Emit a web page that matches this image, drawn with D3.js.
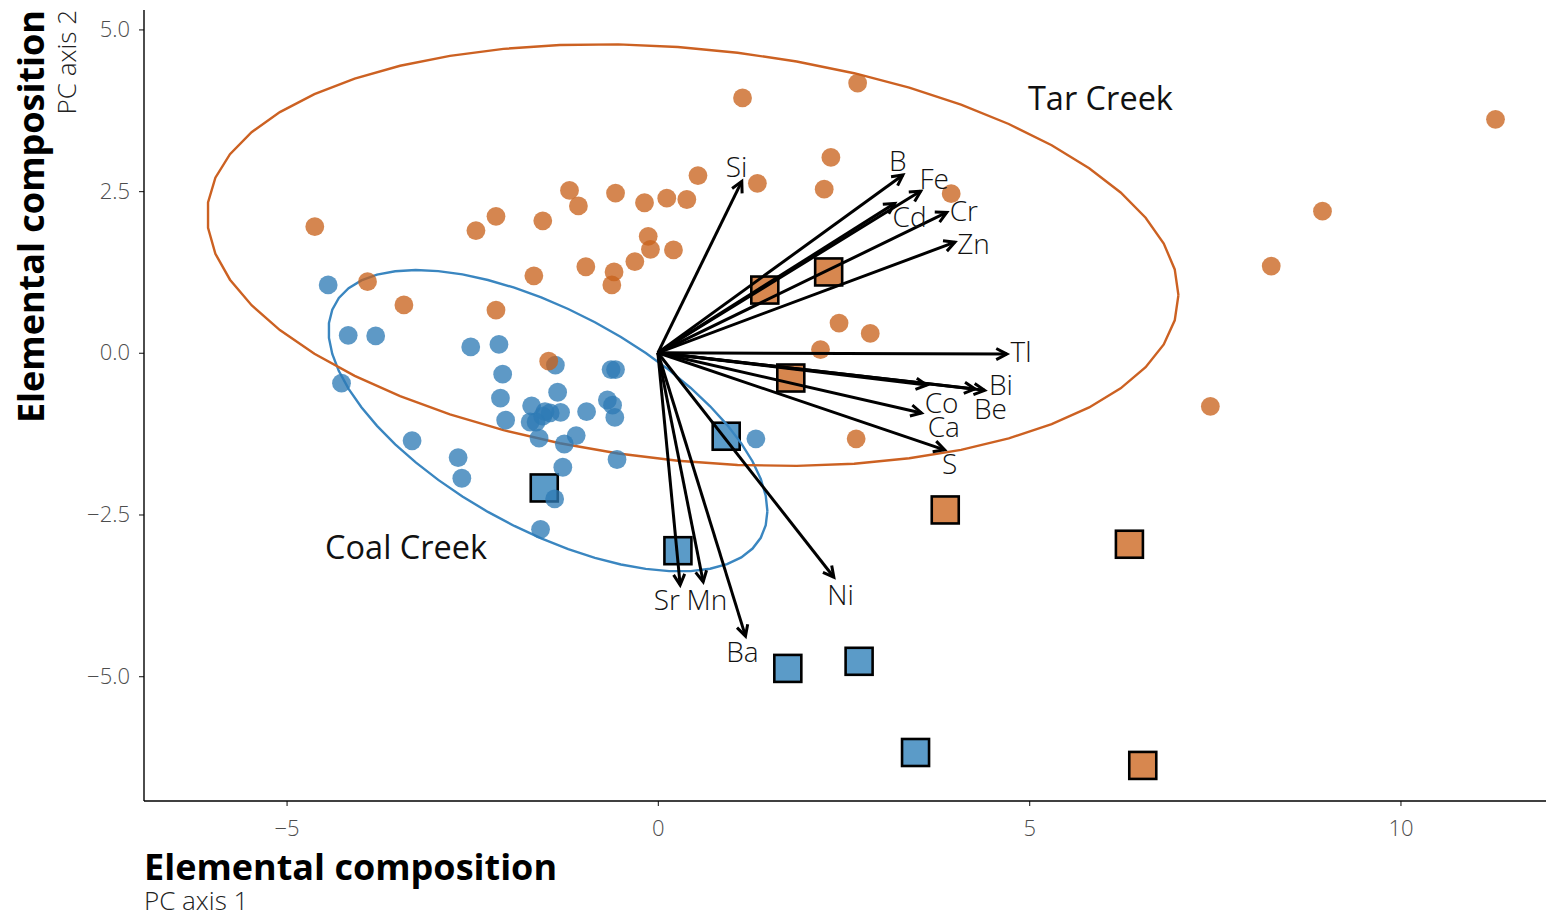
<!DOCTYPE html>
<html lang="en-US">
<head>
<meta charset="utf-8">
<script src="https://d3js.org/d3.v7.min.js"></script>
<style>
body { margin: 0; background: #fff; font-family: 'Open Sans', sans-serif; }
svg { display: block; }
.tick text { font-size: 22px; fill: #4d4d4d; font-weight: 300; font-family: 'Open Sans', sans-serif; }
.tick line { stroke: #333; stroke-width: 1.2; }
.domain { stroke: #000; stroke-width: 1.4; }
text.title { font-size: 36px; font-weight: 700; fill: #000; }
text.subtitle { font-size: 26px; font-weight: 300; fill: #222; }
text.element { font-size: 28px; font-weight: 300; fill: #111; }
text.site { font-size: 32.5px; font-weight: 400; fill: #111; }
</style>
</head>
<body>
<svg id="pca" width="1546" height="918"></svg>
<script>
// sample scores, Coal Creek
const coalX = [-4.44, -4.17, -3.80, -4.26, -3.31, -2.69, -2.64, -2.52, -2.14, -2.09, -2.12, -2.05,
  -1.70, -1.72, -1.64, -1.52, -1.45, -1.55, -1.38, -1.35, -1.31, -0.96, -1.60, -1.26, -1.10,
  -1.28, -1.39, -1.58, -0.63, -0.57, -0.68, -0.61, -0.58, -0.55, 1.32];
const coalY = [1.05, 0.27, 0.26, -0.47, -1.36, -1.62, -1.94, 0.09, 0.13, -0.33, -0.70, -1.04,
  -0.82, -1.07, -1.07, -0.91, -0.93, -0.98, -0.19, -0.61, -0.92, -0.91, -1.32, -1.41, -1.28,
  -1.77, -2.26, -2.73, -0.26, -0.26, -0.73, -0.81, -1.00, -1.65, -1.33];

// sample scores, Tar Creek
const tarX = [-4.62, -3.91, -3.42, -2.45, -2.18, -2.18, -1.67, -1.55, -1.47, -1.19, -1.07, -0.97,
  -0.62, -0.59, -0.57, -0.31, -0.18, -0.13, -0.10, 0.12, 0.21, 0.39, 0.54, 1.14, 1.34, 2.24,
  2.33, 2.69, 2.44, 2.86, 2.19, 3.95, 2.67, 11.28, 8.95, 8.26, 7.44];
const tarY = [1.95, 1.10, 0.74, 1.89, 2.11, 0.66, 1.19, 2.04, -0.13, 2.51, 2.27, 1.33,
  1.05, 1.25, 2.47, 1.41, 2.32, 1.80, 1.60, 2.39, 1.59, 2.37, 2.74, 3.94, 2.62, 2.53,
  3.02, 4.17, 0.46, 0.30, 0.05, 2.46, -1.33, 3.61, 2.19, 1.34, -0.83];

// square markers
const coalSqX = [-1.53, 0.27, 0.92, 1.75, 2.71, 3.47];
const coalSqY = [-2.09, -3.06, -1.29, -4.88, -4.77, -6.18];
const tarSqX = [1.44, 2.30, 1.79, 3.87, 6.35, 6.53];
const tarSqY = [0.97, 1.25, -0.39, -2.43, -2.96, -6.38];

// loadings
const elements = ['Si', 'B', 'Fe', 'Cd', 'Cr', 'Zn', 'Tl', 'Bi', 'Be', 'Co', 'Ca', 'S', 'Ni', 'Ba', 'Sr', 'Mn'];
const loadX = [1.13, 3.30, 3.54, 3.19, 3.89, 4.00, 4.70, 4.40, 4.27, 3.62, 3.55, 3.86, 2.37, 1.18, 0.30, 0.61];
const loadY = [2.65, 2.75, 2.50, 2.31, 2.17, 1.71, -0.02, -0.58, -0.56, -0.50, -0.93, -1.50, -3.47, -4.38, -3.59, -3.54];
const labelX = [1.06, 3.23, 3.72, 3.39, 4.12, 4.25, 4.89, 4.62, 4.48, 3.82, 3.85, 3.93, 2.46, 1.14, 0.12, 0.66];
const labelY = [2.89, 2.98, 2.70, 2.11, 2.21, 1.70, 0.03, -0.48, -0.85, -0.76, -1.13, -1.70, -3.73, -4.61, -3.81, -3.81];

// ellipses: centre, spread, correlation
const sites = ['Coal Creek', 'Tar Creek'];
const ellCx = [-1.48, 0.47];
const ellCy = [-1.05, 1.51];
const ellSx = [2.955, 6.54];
const ellSy = [2.33, 3.26];
const ellR = [-0.60, -0.19];
const siteLabelX = [-3.39, 5.96];
const siteLabelY = [-2.99, 3.94];

const xTicks = [-5, 0, 5, 10];
const yTicks = [-5, -2.5, 0, 2.5, 5];

const lineColor = ['#3a86c0', '#cc6122'];
const fillColor = ['#5b9bc8', '#d7874f'];

const plotLeft = 144, plotRight = 1546, plotTop = 10, plotBottom = 801;

const svg = d3.select('#pca');

const x = d3.scaleLinear().domain([-6.92, 11.96]).range([plotLeft, plotRight]);
const y = d3.scaleLinear().domain([-6.93, 5.30]).range([plotBottom, plotTop]);

const fmtX = d3.format('d');
const fmtY = d3.format('.1f');

svg.append('g')
  .attr('transform', `translate(0, ${plotBottom})`)
  .call(d3.axisBottom(x).tickValues(xTicks).tickSize(5).tickPadding(14).tickFormat(fmtX));

svg.append('g')
  .attr('transform', `translate(${plotLeft}, 0)`)
  .call(d3.axisLeft(y).tickValues(yTicks).tickSize(5).tickPadding(9).tickFormat(fmtY));

svg.selectAll('.domain').remove();
svg.append('line').attr('class', 'domain')
  .attr('x1', plotLeft).attr('x2', plotRight).attr('y1', plotBottom).attr('y2', plotBottom);
svg.append('line').attr('class', 'domain')
  .attr('x1', plotLeft).attr('x2', plotLeft).attr('y1', plotTop).attr('y2', plotBottom);

// squares first
const sq = 27;
const squares = [
  coalSqX.map((v, i) => ({ x: v, y: coalSqY[i], s: 0 })),
  tarSqX.map((v, i) => ({ x: v, y: tarSqY[i], s: 1 }))
].flat();

svg.append('g').selectAll('rect')
  .data(squares)
  .enter()
  .append('rect')
  .attr('x', d => x(d.x) - sq / 2)
  .attr('y', d => y(d.y) - sq / 2)
  .attr('width', sq)
  .attr('height', sq)
  .attr('fill', d => fillColor[d.s])
  .attr('stroke', '#000')
  .attr('stroke-width', 2.6);

// ellipses
const line = d3.line().x(d => x(d[0])).y(d => y(d[1]));
sites.forEach((s, k) => {
  const pts = d3.range(52).map(i => {
    const t = i / 51 * 2 * Math.PI;
    return [
      ellCx[k] + ellSx[k] * Math.cos(t),
      ellCy[k] + ellSy[k] * (ellR[k] * Math.cos(t) + Math.sqrt(1 - ellR[k] * ellR[k]) * Math.sin(t))
    ];
  });
  svg.append('path')
    .attr('d', line(pts))
    .attr('fill', 'none')
    .attr('stroke', lineColor[k])
    .attr('stroke-width', 2.4);
});

// circles
const points = [
  coalX.map((v, i) => ({ x: v, y: coalY[i], s: 0 })),
  tarX.map((v, i) => ({ x: v, y: tarY[i], s: 1 }))
].flat();

svg.append('g').selectAll('circle')
  .data(points)
  .enter()
  .append('circle')
  .attr('cx', d => x(d.x))
  .attr('cy', d => y(d.y))
  .attr('r', 9.4)
  .attr('fill', d => d.s ? '#c9611b' : '#2d7ab5')
  .attr('fill-opacity', 0.77);

// loading arrows
const arrows = svg.append('g');
elements.forEach((e, i) => {
  const x0 = x(0), y0 = y(0), x1 = x(loadX[i]), y1 = y(loadY[i]);
  const a = Math.atan2(y1 - y0, x1 - x0);
  const len = 12, spread = Math.PI / 6.5;
  arrows.append('line')
    .attr('x1', x0).attr('y1', y0).attr('x2', x1).attr('y2', y1)
    .attr('stroke', '#000').attr('stroke-width', 3);
  arrows.append('path')
    .attr('d', `M${x1 - len * Math.cos(a - spread)},${y1 - len * Math.sin(a - spread)}L${x1},${y1}L${x1 - len * Math.cos(a + spread)},${y1 - len * Math.sin(a + spread)}`)
    .attr('fill', 'none')
    .attr('stroke', '#000')
    .attr('stroke-width', 3)
    .attr('stroke-linejoin', 'miter');
});

svg.append('g').selectAll('text')
  .data(elements)
  .enter()
  .append('text')
  .attr('class', 'element')
  .attr('x', (d, i) => x(labelX[i]))
  .attr('y', (d, i) => y(labelY[i]))
  .attr('text-anchor', 'middle')
  .attr('dominant-baseline', 'central')
  .text(d => d);

svg.append('g').selectAll('text')
  .data(sites)
  .enter()
  .append('text')
  .attr('class', 'site')
  .attr('x', (d, i) => x(siteLabelX[i]))
  .attr('y', (d, i) => y(siteLabelY[i]))
  .attr('text-anchor', 'middle')
  .attr('dominant-baseline', 'central')
  .text(d => d);

// axis titles
svg.append('text')
  .attr('class', 'title')
  .attr('x', plotLeft)
  .attr('y', 880)
  .text('Elemental composition');

svg.append('text')
  .attr('class', 'subtitle')
  .attr('x', plotLeft)
  .attr('y', 910)
  .text('PC axis 1');

svg.append('text')
  .attr('class', 'title')
  .attr('transform', `translate(44, ${plotTop}) rotate(-90)`)
  .attr('text-anchor', 'end')
  .text('Elemental composition');

svg.append('text')
  .attr('class', 'subtitle')
  .attr('transform', `translate(76, ${plotTop}) rotate(-90)`)
  .attr('text-anchor', 'end')
  .text('PC axis 2');
</script>
</body>
</html>
